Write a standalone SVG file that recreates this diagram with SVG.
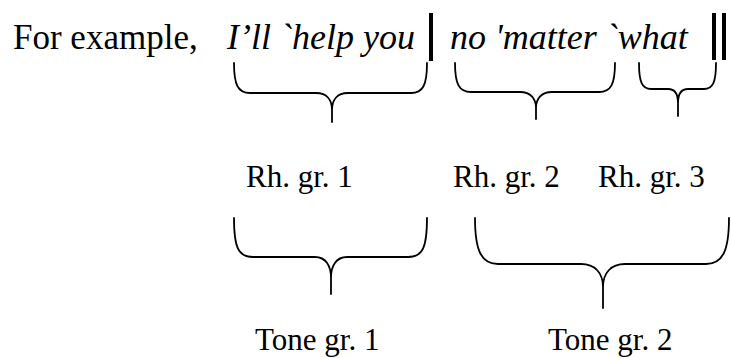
<svg xmlns="http://www.w3.org/2000/svg" width="731" height="358" viewBox="0 0 731 358">
<style>
.big{font-family:"Liberation Serif","Times New Roman",serif;font-size:35px;fill:#000}
.it{font-family:"Liberation Serif","Times New Roman",serif;font-size:36px;font-style:italic;fill:#000}
.lbl{font-family:"Liberation Serif","Times New Roman",serif;font-size:31px;fill:#000}
.brace{fill:none;stroke:#000;stroke-width:1.8;stroke-linecap:round;stroke-linejoin:round}
.bar{fill:#000}
</style>
<rect width="731" height="358" fill="#fff"/>
<g id="sentence">
<text class="big" x="13" y="49">For example,</text>
<text class="it" x="227" y="49">I’ll `help you</text>
<rect class="bar" x="429" y="13" width="4" height="48"/>
<text class="it" x="450" y="49">no 'matter `what</text>
<rect class="bar" x="712" y="13" width="4" height="47"/>
<rect class="bar" x="722" y="13" width="4" height="47"/>
</g>
<g id="connectors">
<path class="brace" d="M234,63 C234,85 238,93 250,93 L316,93 C327,93 332,100 332,110 L332,122 M427,63 C427,85 423,93 411,93 L348,93 C337,93 332,100 332,110"/>
<path class="brace" d="M455,63 C455,84 459,92 471,92 L520,92 C531,92 536,99 536,108 L536,119 M615,63 C615,84 611,92 599,92 L552,92 C541,92 536,99 536,108"/>
<path class="brace" d="M639,63 C639,82 642,89 651,89 L668,89 C675,89 678,95 678,103 L678,116 M716,63 C716,82 713,89 704,89 L688,89 C681,89 678,95 678,103"/>
<path class="brace" d="M234,218 C234,247 238,257 253,257 L315,257 C326,257 331,266 331,278 L331,294 M427,218 C427,247 423,257 408,257 L347,257 C336,257 331,266 331,278"/>
<path class="brace" d="M475,218 C475,250 481,264 498,264 L581,264 C595,264 603,273 603,287 L603,308 M729,218 C729,250 723,264 706,264 L625,264 C611,264 603,273 603,287"/>
</g>
<g id="rh1"><text class="lbl" x="246" y="187">Rh. gr. 1</text></g>
<g id="rh2"><text class="lbl" x="453" y="187">Rh. gr. 2</text></g>
<g id="rh3"><text class="lbl" x="598" y="187">Rh. gr. 3</text></g>
<g id="tone1"><text class="lbl" x="255" y="350">Tone gr. 1</text></g>
<g id="tone2"><text class="lbl" x="548" y="350">Tone gr. 2</text></g>
</svg>
